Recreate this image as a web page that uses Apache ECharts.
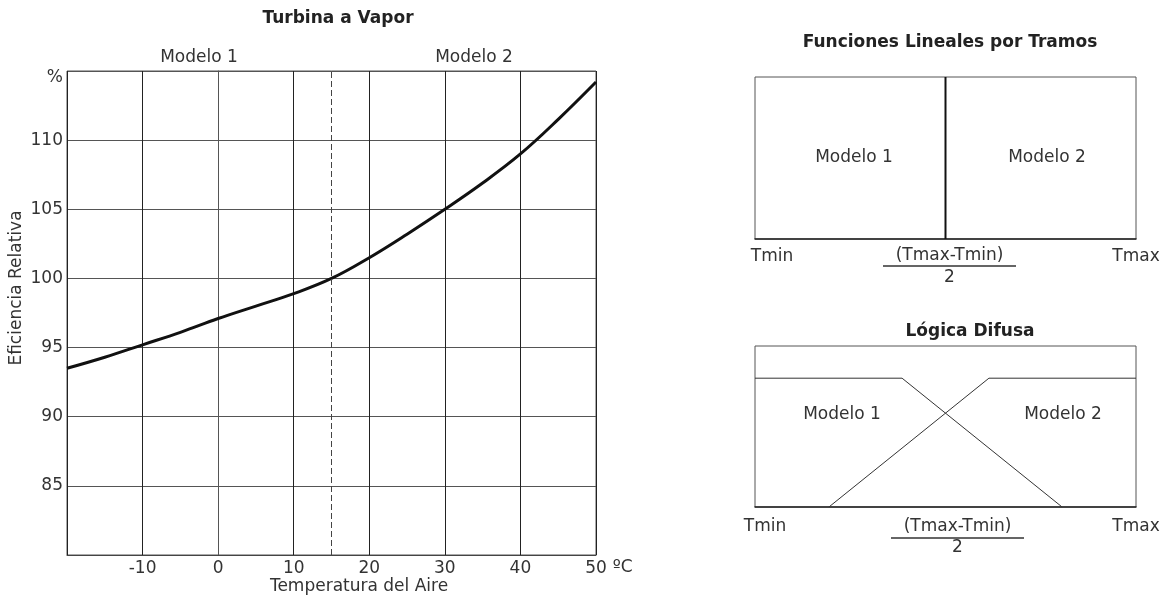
<!DOCTYPE html>
<html><head><meta charset="utf-8">
<script src="https://cdn.jsdelivr.net/npm/echarts@6/dist/echarts.min.js"></script>
<style>html,body{margin:0;padding:0;background:#fff}#c{width:1165px;height:599px}</style>
</head><body><div id="c"></div>
<script>
// ---- data ----
const temps = [-20, -15, -10, -5, 0, 5, 10, 15, 20, 25, 30, 35, 40, 45, 50];
const efficiency = [93.5, 94.3, 95.2, 96.1, 97.1, 98.0, 98.9, 100, 101.5, 103.2, 105, 106.9, 109, 111.5, 114.2];
const splitTemp = 15;
const xTickValues = [-10, 0, 10, 20, 30, 40, 50];
const xTickLabels = ['-10', '0', '10', '20', '30', '40', '50'];
const yTickValues = [85, 90, 95, 100, 105, 110, 115];
const yTickLabels = ['85', '90', '95', '100', '105', '110', '%'];
const modelNames = ['Modelo 1', 'Modelo 2'];
const rangeLabels = ['Tmin', '(Tmax-Tmin)', '2', 'Tmax'];
const crispBoundary = [[0.5, 0], [0.5, 1]];
const fuzzyModel1 = [[0, 1], [0.386, 1], [0.806, 0]];
const fuzzyModel2 = [[0.194, 0], [0.614, 1], [1, 1]];

const FONT = 'DejaVu Sans';
const TXT = '#333';

const curve = temps.map((t, i) => [t, efficiency[i]]);

function txt(text, x, y, opts) {
  return {
    type: 'text', x: x, y: y, silent: true,
    style: Object.assign({ text: text, align: 'center', verticalAlign: 'middle',
      fontFamily: FONT, fontSize: 17, fill: TXT }, opts || {})
  };
}

function rangeFormatter(v) {
  if (v === 0) return '{lo|' + rangeLabels[0] + '}';
  if (v === 0.5) return '{num|' + rangeLabels[1] + '}\n{sp|}{hr|}\n{den|' + rangeLabels[2] + '}';
  if (v === 1) return '{hi|' + rangeLabels[3] + '}';
  return '';
}
function rangeRich(shiftMin, shiftFrac, numLH, denLH) {
  return {
    lo: { fontFamily: FONT, fontSize: 17, color: TXT, lineHeight: 20, padding: [0, 0, 0, shiftMin] },
    hi: { fontFamily: FONT, fontSize: 17, color: TXT, lineHeight: 20 },
    num: { fontFamily: FONT, fontSize: 17, color: TXT, lineHeight: numLH, align: 'center', padding: [0, 0, 0, shiftFrac] },
    sp: { width: shiftFrac, height: 0, lineHeight: 2 },
    hr: { borderColor: '#333', borderWidth: 1, width: 133, height: 0, lineHeight: 2 },
    den: { fontFamily: FONT, fontSize: 17, color: TXT, lineHeight: denLH, align: 'center', padding: [0, 0, 0, shiftFrac] }
  };
}

const chart = echarts.init(document.getElementById('c'), null, { renderer: 'canvas' });
chart.setOption({
  animation: false,
  backgroundColor: '#fff',
  textStyle: { fontFamily: FONT },
  grid: [
    { left: 67, top: 71, width: 529, height: 484, show: true, borderColor: '#555', borderWidth: 1 },
    { left: 755, top: 77, width: 381, height: 162, show: true, borderColor: '#555', borderWidth: 1 },
    { left: 755, top: 346, width: 381, height: 161, show: true, borderColor: '#555', borderWidth: 1 }
  ],
  xAxis: [
    {
      gridIndex: 0, type: 'value', min: -20, max: 50, interval: 10,
      name: 'ºC', nameLocation: 'end', nameGap: 14,
      nameTextStyle: { fontFamily: FONT, fontSize: 17, color: TXT, verticalAlign: 'top', align: 'left', padding: [4, 0, 0, 0] },
      axisLine: { show: true, lineStyle: { color: '#444', width: 1 } },
      axisTick: { show: false },
      axisLabel: {
        margin: 5, fontFamily: FONT, fontSize: 17, color: TXT, showMinLabel: false,
        formatter: v => { const i = xTickValues.indexOf(v); return i >= 0 ? xTickLabels[i] : ''; }
      },
      splitLine: { show: true, lineStyle: { color: '#222', width: 1 } }
    },
    {
      gridIndex: 1, type: 'value', min: 0, max: 1, interval: 0.5,
      axisLine: { show: true, lineStyle: { color: '#222', width: 1.5 } },
      axisTick: { show: false }, splitLine: { show: false },
      axisLabel: { margin: 8, showMinLabel: true, showMaxLabel: true, hideOverlap: false,
        formatter: rangeFormatter, rich: rangeRich(34, 8, 18, 22) }
    },
    {
      gridIndex: 2, type: 'value', min: 0, max: 1, interval: 0.5,
      axisLine: { show: true, lineStyle: { color: '#222', width: 1.5 } },
      axisTick: { show: false }, splitLine: { show: false },
      axisLabel: { margin: 10, showMinLabel: true, showMaxLabel: true, hideOverlap: false,
        formatter: rangeFormatter, rich: rangeRich(20, 24, 20, 18) }
    }
  ],
  yAxis: [
    {
      gridIndex: 0, type: 'value', min: 80, max: 115, interval: 5,
      axisLine: { show: true, lineStyle: { color: '#555', width: 1 } },
      axisTick: { show: false },
      axisLabel: {
        margin: 4, fontFamily: FONT, fontSize: 17, color: TXT, showMinLabel: false,
        formatter: v => {
          const i = yTickValues.indexOf(v);
          if (i < 0) return '';
          return i === yTickValues.length - 1 ? '{pct|' + yTickLabels[i] + '}' : yTickLabels[i];
        },
        rich: { pct: { fontFamily: FONT, fontSize: 17, color: TXT, padding: [14, 0, 0, 0] } }
      },
      splitLine: { show: true, lineStyle: { color: '#555', width: 1.2 } }
    },
    { gridIndex: 1, type: 'value', min: 0, max: 1, show: false },
    { gridIndex: 2, type: 'value', min: 0, max: 1.25, show: false }
  ],
  series: [
    {
      type: 'line', xAxisIndex: 0, yAxisIndex: 0, data: curve, smooth: 0.4,
      symbol: 'none', lineStyle: { color: '#111', width: 3 },
      markLine: {
        silent: true, symbol: ['none', 'none'], label: { show: false },
        lineStyle: { color: '#444', width: 1, type: [6, 3] },
        data: [{ xAxis: splitTemp }]
      }
    },
    {
      type: 'line', xAxisIndex: 1, yAxisIndex: 1, data: crispBoundary,
      symbol: 'none', lineStyle: { color: '#111', width: 2 }
    },
    {
      type: 'line', xAxisIndex: 2, yAxisIndex: 2, data: fuzzyModel1,
      symbol: 'none', lineStyle: { color: '#333', width: 1 }
    },
    {
      type: 'line', xAxisIndex: 2, yAxisIndex: 2, data: fuzzyModel2,
      symbol: 'none', lineStyle: { color: '#333', width: 1 }
    }
  ],
  graphic: [
    txt('Turbina a Vapor', 338, 19, { fontWeight: 'bold', fill: '#222' }),
    txt(modelNames[0], 199, 58),
    txt(modelNames[1], 474, 58),
    Object.assign(txt('Eficiencia Relativa', 17, 288), { rotation: Math.PI / 2 }),
    txt('Temperatura del Aire', 359, 587),
    txt('Funciones Lineales por Tramos', 950, 43, { fontWeight: 'bold', fill: '#222' }),
    txt(modelNames[0], 854, 158),
    txt(modelNames[1], 1047, 158),
    txt('Lógica Difusa', 970, 332, { fontWeight: 'bold', fill: '#222' }),
    txt(modelNames[0], 842, 415),
    txt(modelNames[1], 1063, 415)
  ]
});
</script>
</body></html>
